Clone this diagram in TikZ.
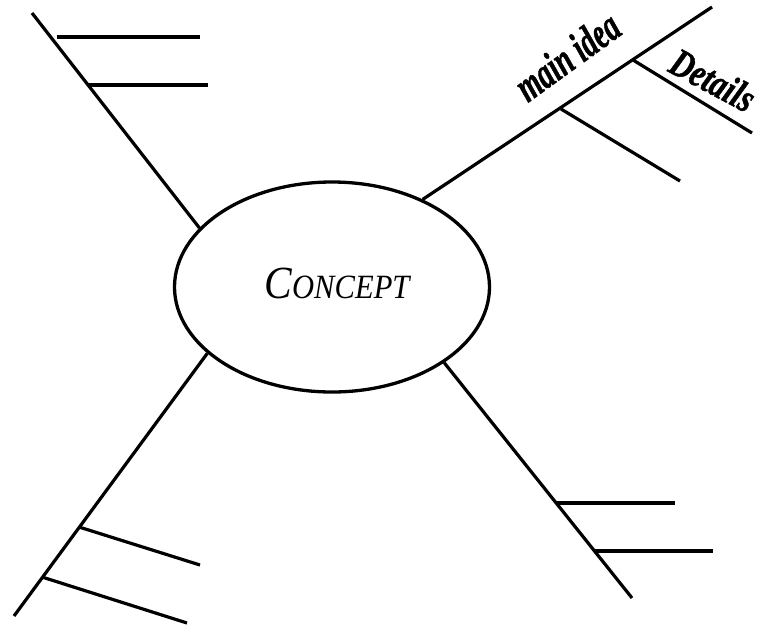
\documentclass[tikz,border=0pt]{standalone}
\usepackage{fontspec}
\setmainfont{Liberation Serif}
\newfontfamily\heavyital[FakeBold=1.2]{Liberation Serif Bold Italic}
\usetikzlibrary{shapes.geometric}
\begin{document}
\begin{tikzpicture}[x=1pt,y=-1pt,
  stroke/.style={line width=3.2pt,line cap=butt},
  lbl/.style={font=\heavyital,inner sep=0pt}]
\useasboundingbox (0,0) rectangle (766,625);
\node[ellipse,draw,line width=3.3pt,minimum width=315pt,minimum height=210pt,inner sep=0pt] (c) at (332,287) {};
\node[inner sep=0pt,font=\itshape] (t) at (337,283) {\scalebox{0.9}[1]{\fontsize{46}{46}\selectfont C\fontsize{34}{34}\selectfont ONCEPT}};
% upper-left
\coordinate (ul) at (32,13);
\coordinate (ula) at (57,37); \coordinate (ulb) at (200,37);
\coordinate (ulc) at (88,85); \coordinate (uld) at (208,85);
\draw[stroke] (c.156) -- (ul);
\draw[stroke] (ula) -- (ulb);
\draw[stroke] (ulc) -- (uld);
% upper-right
\coordinate (ur) at (712,7);
\coordinate (ura) at (633,60); \coordinate (urb) at (752,133);
\coordinate (urc) at (561,109); \coordinate (urd) at (680,181);
\draw[stroke] (c.44) -- (ur);
\draw[stroke] (ura) -- (urb);
\draw[stroke] (urc) -- (urd);
% lower-left
\coordinate (ll) at (14,616);
\coordinate (lla) at (79,527); \coordinate (llb) at (200,565);
\coordinate (llc) at (42,577); \coordinate (lld) at (187,623);
\draw[stroke] (c.208) -- (ll);
\draw[stroke] (lla) -- (llb);
\draw[stroke] (llc) -- (lld);
% lower-right
\coordinate (lr) at (632,598);
\coordinate (lra) at (556,503); \coordinate (lrb) at (675,503);
\coordinate (lrc) at (594,551); \coordinate (lrd) at (713,551);
\draw[stroke] (c.326) -- (lr);
\draw[stroke] (lra) -- (lrb);
\draw[stroke] (lrc) -- (lrd);
% labels
\node[lbl,rotate=36] (mi) at (567,56) {\scalebox{0.66}[1]{\fontsize{44}{44}\selectfont main idea}};
\node[lbl,rotate=-28] (de) at (713,80) {\scalebox{0.78}[1]{\fontsize{40}{40}\selectfont Details}};
\end{tikzpicture}
\end{document}
